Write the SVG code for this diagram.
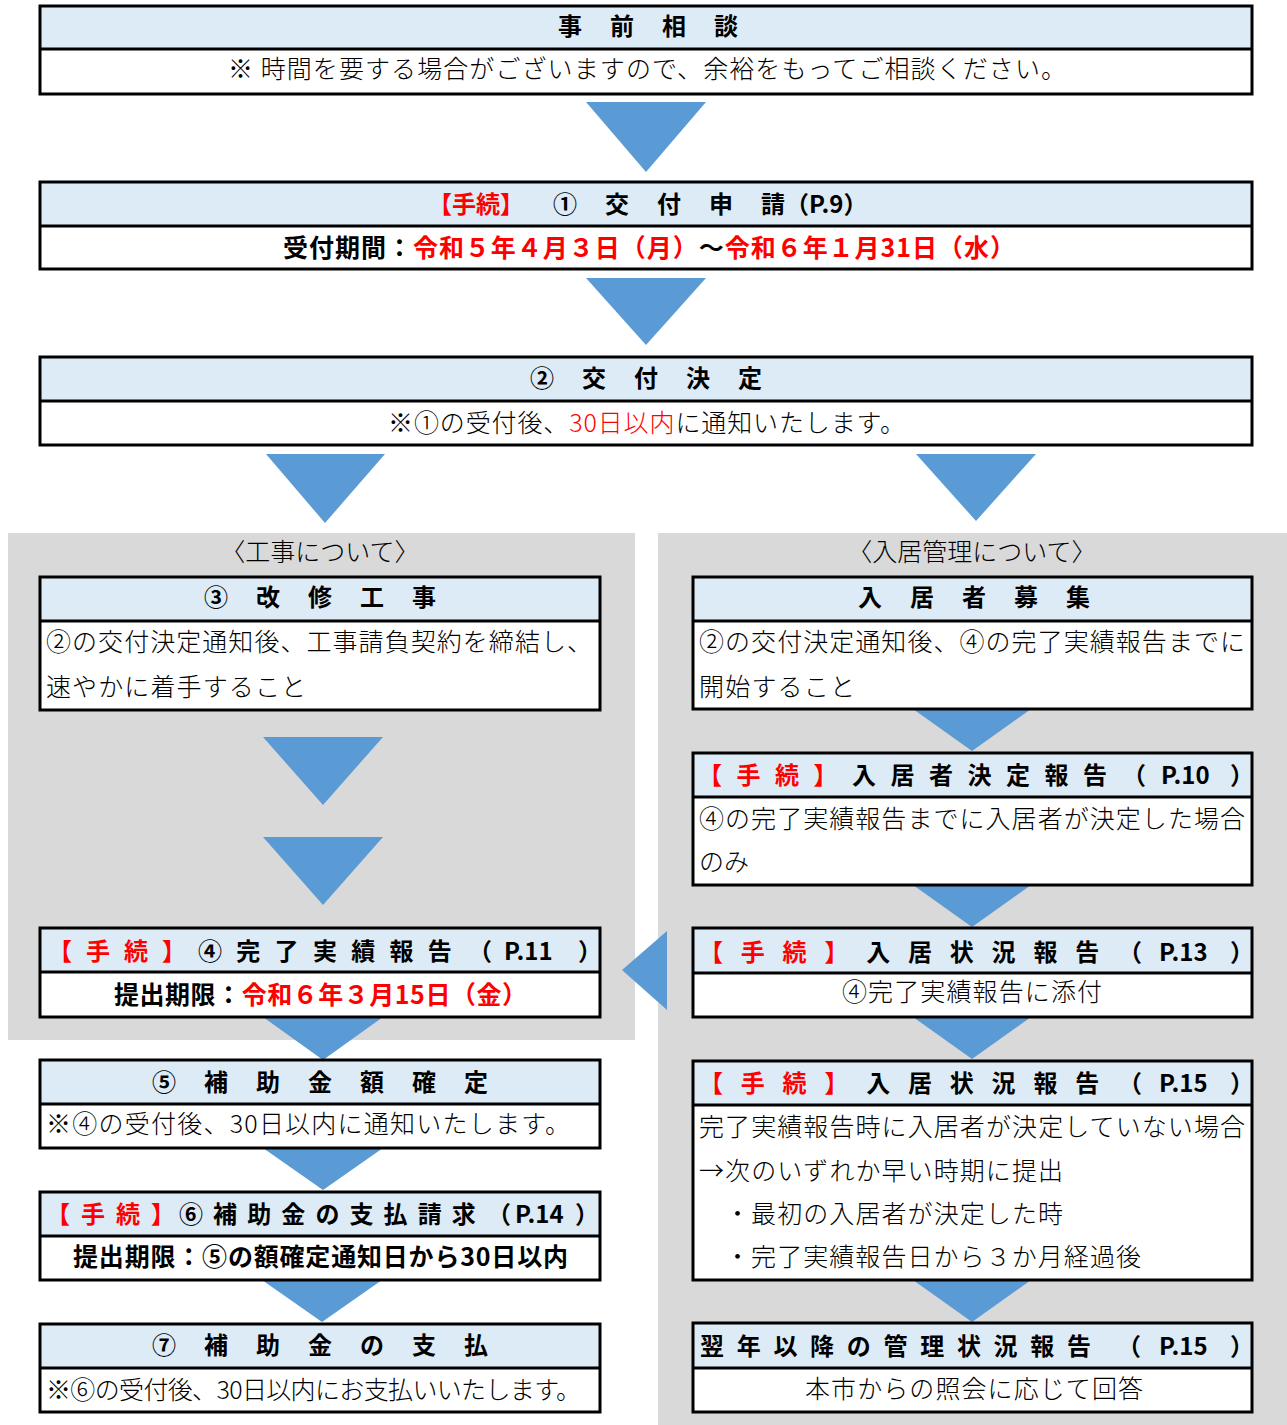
<svg xmlns="http://www.w3.org/2000/svg" width="1287" height="1425" viewBox="0 0 1287 1425">
<defs>
<style>
.hd{fill:#DDEBF7}
.wb{fill:#FFFFFF}
.bx{fill:none;stroke:#000;stroke-width:3}
.dv{stroke:#000;stroke-width:3}
.ar{fill:#5B9BD5}
.pn{fill:#D9D9D9}
text{font-family:"Noto Sans CJK JP","Noto Sans",sans-serif;font-size:25px;font-weight:300;fill:#000}
.h{font-size:24px;font-weight:700}
.bb{font-weight:700;font-size:25px}
.r{fill:#FF0000}
.s0{letter-spacing:0px}
</style>
</defs>
<rect width="1287" height="1425" fill="#FFFFFF"/>
<g id="panels">
<rect class="pn" x="8" y="533" width="627" height="507"/>
<rect class="pn" x="658" y="533" width="629" height="892"/>
<text x="320" y="561" text-anchor="middle">〈工事について〉</text>
<text x="972" y="561" text-anchor="middle">〈入居管理について〉</text>
</g>
<g id="connectors">
<polygon class="ar" points="586,102 706,102 646,172"/>
<polygon class="ar" points="586,278 706,278 646,345"/>
<polygon class="ar" points="266,454 385,454 325,523"/>
<polygon class="ar" points="916,454 1036,454 976,521"/>
<polygon class="ar" points="263,737 383,737 323,805"/>
<polygon class="ar" points="263,837 383,837 323,905"/>
<polygon class="ar" points="263,1017 383,1017 323,1060"/>
<polygon class="ar" points="263,1148 383,1148 323,1190"/>
<polygon class="ar" points="262,1280 382,1280 322,1322"/>
<polygon class="ar" points="913,709 1031,709 972,751"/>
<polygon class="ar" points="913,885 1031,885 972,927"/>
<polygon class="ar" points="913,1017 1031,1017 972,1059"/>
<polygon class="ar" points="913,1280 1031,1280 972,1322"/>
<polygon class="ar" points="667,931 667,1010 622,970"/>
</g>
<g id="n0">
<rect class="wb" x="40" y="6" width="1212" height="88"/>
<rect class="hd" x="40" y="6" width="1212" height="43"/>
<line class="dv" x1="40" y1="49" x2="1252" y2="49"/>
<rect class="bx" x="40" y="6" width="1212" height="88"/>
<text class="h" x="558" y="35" style="letter-spacing:28px">事前相談</text>
<text x="228" y="78" textLength="838" lengthAdjust="spacing">※ 時間を要する場合がございますので、余裕をもってご相談ください。</text>
</g>
<g id="n1">
<rect class="wb" x="40" y="182" width="1212" height="87"/>
<rect class="hd" x="40" y="182" width="1212" height="44"/>
<line class="dv" x1="40" y1="226" x2="1252" y2="226"/>
<rect class="bx" x="40" y="182" width="1212" height="87"/>
<text class="h" x="428" y="213"><tspan class="r">【手続】</tspan><tspan x="553" style="letter-spacing:28px">①交付申</tspan><tspan x="761">請（P.9）</tspan></text>
<text class="bb" x="283" y="257" textLength="732" lengthAdjust="spacing">受付期間：<tspan class="r">令和５年４月３日（月）</tspan>～<tspan class="r">令和６年１月31日（水）</tspan></text>
</g>
<g id="n2">
<rect class="wb" x="40" y="357" width="1212" height="88"/>
<rect class="hd" x="40" y="357" width="1212" height="44"/>
<line class="dv" x1="40" y1="401" x2="1252" y2="401"/>
<rect class="bx" x="40" y="357" width="1212" height="88"/>
<text class="h" x="530" y="387" style="letter-spacing:28px">②交付決定</text>
<text x="388" y="432" textLength="517" lengthAdjust="spacing">※①の受付後、<tspan class="r">30日以内</tspan>に通知いたします。</text>
</g>
<g id="n3">
<rect class="wb" x="40" y="577" width="560" height="133"/>
<rect class="hd" x="40" y="577" width="560" height="44"/>
<line class="dv" x1="40" y1="621" x2="600" y2="621"/>
<rect class="bx" x="40" y="577" width="560" height="133"/>
<text class="h" x="204" y="606" style="letter-spacing:28px">③改修工事</text>
<text x="46" y="651" textLength="546" lengthAdjust="spacing">②の交付決定通知後、工事請負契約を締結し、</text>
<text x="46" y="696" textLength="260" lengthAdjust="spacing">速やかに着手すること</text>
</g>
<g id="n4">
<rect class="wb" x="693" y="577" width="559" height="132"/>
<rect class="hd" x="693" y="577" width="559" height="44"/>
<line class="dv" x1="693" y1="621" x2="1252" y2="621"/>
<rect class="bx" x="693" y="577" width="559" height="132"/>
<text class="h" x="858" y="606" style="letter-spacing:28px">入居者募集</text>
<text x="699" y="651" textLength="546" lengthAdjust="spacing">②の交付決定通知後、④の完了実績報告までに</text>
<text x="699" y="696" textLength="156" lengthAdjust="spacing">開始すること</text>
</g>
<g id="n5">
<rect class="wb" x="693" y="753" width="559" height="132"/>
<rect class="hd" x="693" y="753" width="559" height="44"/>
<line class="dv" x1="693" y1="797" x2="1252" y2="797"/>
<rect class="bx" x="693" y="753" width="559" height="132"/>
<text class="h" x="698" y="784" style="letter-spacing:14.5px"><tspan class="r">【手続】</tspan>入居者決定報告<tspan x="1122">（</tspan><tspan x="1161" class="s0">P.10</tspan><tspan x="1230">）</tspan></text>
<text x="699" y="828" textLength="546" lengthAdjust="spacing">④の完了実績報告までに入居者が決定した場合</text>
<text x="699" y="871">のみ</text>
</g>
<g id="n6">
<rect class="wb" x="693" y="928" width="559" height="89"/>
<rect class="hd" x="693" y="928" width="559" height="45"/>
<line class="dv" x1="693" y1="973" x2="1252" y2="973"/>
<rect class="bx" x="693" y="928" width="559" height="89"/>
<text class="h" x="699" y="961" style="letter-spacing:17.8px"><tspan class="r">【手続】</tspan>入居状況報告<tspan x="1118">（</tspan><tspan x="1159" class="s0">P.13</tspan><tspan x="1230">）</tspan></text>
<text x="972" y="1001" text-anchor="middle" textLength="260" lengthAdjust="spacing">④完了実績報告に添付</text>
</g>
<g id="n7">
<rect class="wb" x="693" y="1061" width="559" height="219"/>
<rect class="hd" x="693" y="1061" width="559" height="44"/>
<line class="dv" x1="693" y1="1105" x2="1252" y2="1105"/>
<rect class="bx" x="693" y="1061" width="559" height="219"/>
<text class="h" x="699" y="1092" style="letter-spacing:17.8px"><tspan class="r">【手続】</tspan>入居状況報告<tspan x="1118">（</tspan><tspan x="1159" class="s0">P.15</tspan><tspan x="1230">）</tspan></text>
<text x="699" y="1136" textLength="546" lengthAdjust="spacing">完了実績報告時に入居者が決定していない場合</text>
<text x="699" y="1180" textLength="364" lengthAdjust="spacing">→次のいずれか早い時期に提出</text>
<text x="725" y="1223" textLength="338" lengthAdjust="spacing">・最初の入居者が決定した時</text>
<text x="725" y="1266" textLength="416" lengthAdjust="spacing">・完了実績報告日から３か月経過後</text>
</g>
<g id="n8">
<rect class="wb" x="693" y="1323" width="559" height="89"/>
<rect class="hd" x="693" y="1323" width="559" height="45"/>
<line class="dv" x1="693" y1="1368" x2="1252" y2="1368"/>
<rect class="bx" x="693" y="1323" width="559" height="89"/>
<text class="h" x="700" y="1355" style="letter-spacing:12.7px">翌年以降の管理状況報告<tspan x="1117">（</tspan><tspan x="1159" class="s0">P.15</tspan><tspan x="1230">）</tspan></text>
<text x="974" y="1398" text-anchor="middle" textLength="338" lengthAdjust="spacing">本市からの照会に応じて回答</text>
</g>
<g id="n9">
<rect class="wb" x="40" y="928" width="560" height="89"/>
<rect class="hd" x="40" y="928" width="560" height="44"/>
<line class="dv" x1="40" y1="972" x2="600" y2="972"/>
<rect class="bx" x="40" y="928" width="560" height="89"/>
<text class="h" x="48" y="960"><tspan class="r" style="letter-spacing:14px">【手続】</tspan><tspan x="198" style="letter-spacing:14.3px">④完了実績報告</tspan><tspan x="468">（</tspan><tspan x="504" class="s0">P.11</tspan><tspan x="578">）</tspan></text>
<text class="bb" x="114" y="1004" textLength="413" lengthAdjust="spacing">提出期限：<tspan class="r">令和６年３月15日（金）</tspan></text>
</g>
<g id="n10">
<rect class="wb" x="40" y="1060" width="560" height="88"/>
<rect class="hd" x="40" y="1060" width="560" height="44"/>
<line class="dv" x1="40" y1="1104" x2="600" y2="1104"/>
<rect class="bx" x="40" y="1060" width="560" height="88"/>
<text class="h" x="152" y="1091" style="letter-spacing:28px">⑤補助金額確定</text>
<text x="46" y="1133" textLength="524" lengthAdjust="spacing">※④の受付後、30日以内に通知いたします。</text>
</g>
<g id="n11">
<rect class="wb" x="40" y="1192" width="560" height="88"/>
<rect class="hd" x="40" y="1192" width="560" height="44"/>
<line class="dv" x1="40" y1="1236" x2="600" y2="1236"/>
<rect class="bx" x="40" y="1192" width="560" height="88"/>
<text class="h" x="46" y="1223"><tspan class="r" style="letter-spacing:11px">【手続】</tspan><tspan x="179" style="letter-spacing:10.1px">⑥補助金の支払請求</tspan><tspan x="487">（</tspan><tspan x="515" class="s0">P.14</tspan><tspan x="575">）</tspan></text>
<text class="bb" x="73" y="1266" textLength="495" lengthAdjust="spacing">提出期限：⑤の額確定通知日から30日以内</text>
</g>
<g id="n12">
<rect class="wb" x="40" y="1324" width="560" height="88"/>
<rect class="hd" x="40" y="1324" width="560" height="44"/>
<line class="dv" x1="40" y1="1368" x2="600" y2="1368"/>
<rect class="bx" x="40" y="1324" width="560" height="88"/>
<text class="h" x="152" y="1354" style="letter-spacing:28px">⑦補助金の支払</text>
<text x="46" y="1399" textLength="535" lengthAdjust="spacing">※⑥の受付後、30日以内にお支払いいたします。</text>
</g>
</svg>
